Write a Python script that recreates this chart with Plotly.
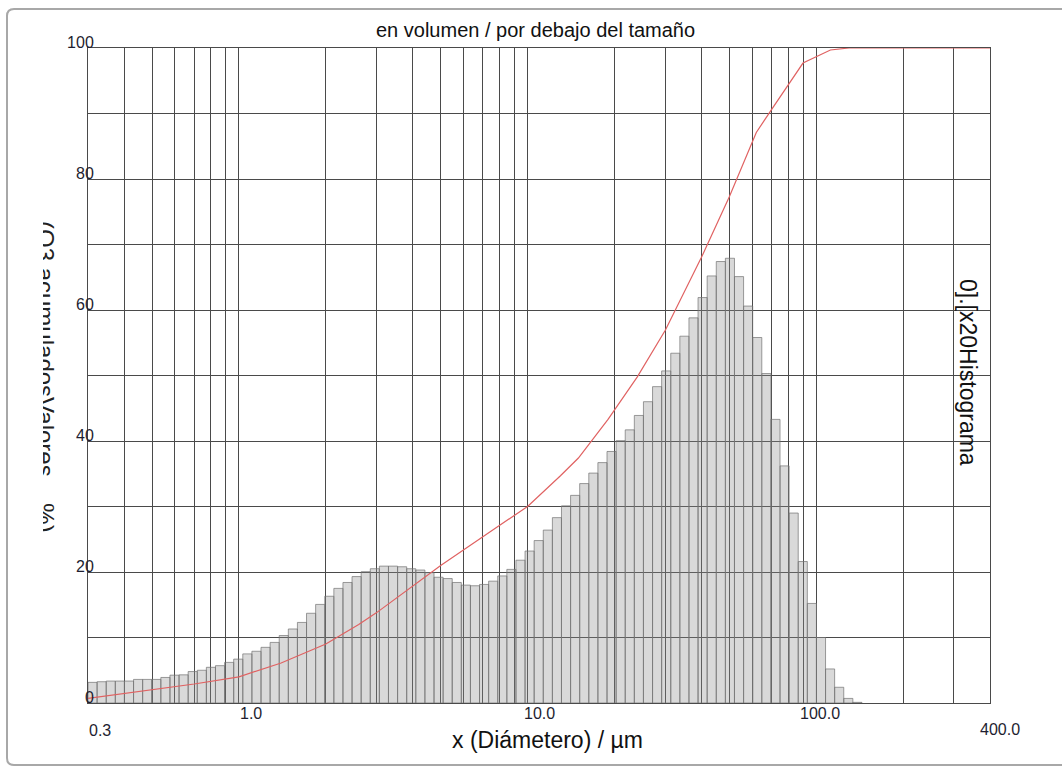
import numpy as np
import plotly.graph_objects as go

# ---------------- data ----------------
bin_edges = [0.3, 0.3226, 0.3469, 0.3730, 0.4011, 0.4314, 0.4639, 0.4988, 0.5364, 0.5768,
             0.6203, 0.6670, 0.7173, 0.7713, 0.8294, 0.8919, 0.9591, 1.0313, 1.1090, 1.1926,
             1.2824, 1.3790, 1.4829, 1.5946, 1.7148, 1.8440, 1.9829, 2.1323, 2.2929, 2.4657,
             2.6514, 2.8512, 3.0660, 3.2970, 3.5454, 3.8125, 4.0997, 4.4086, 4.7407, 5.0979,
             5.4820, 5.8950, 6.3391, 6.8167, 7.3302, 7.8825, 8.4763, 9.1149, 9.8016, 10.540,
             11.334, 12.188, 13.106, 14.094, 15.155, 16.297, 17.525, 18.845, 20.265, 21.792,
             23.434, 25.199, 27.098, 29.139, 31.334, 33.695, 36.233, 38.963, 41.898, 45.055,
             48.449, 52.099, 56.024, 60.245, 64.784, 69.664, 74.913, 80.557, 86.626, 93.152,
             100.17, 107.72, 115.83, 124.56, 133.94, 144.03]

q3_histogram = [3.15, 3.25, 3.35, 3.35, 3.35, 3.6, 3.6, 3.6, 3.9, 4.25,
                4.3, 4.8, 5.0, 5.45, 5.7, 6.2, 6.7, 7.5, 7.9, 8.5,
                9.25, 10.3, 11.3, 12.3, 13.7, 15.05, 16.3, 17.5, 18.4, 19.3,
                20.05, 20.5, 20.9, 20.9, 20.8, 20.5, 20.3, 19.9, 19.2, 19.0,
                18.4, 18.0, 17.9, 18.1, 18.6, 19.4, 20.4, 21.8, 23.2, 24.8,
                26.4, 28.3, 30.1, 31.7, 33.5, 35.1, 36.7, 38.4, 40.05, 41.7,
                43.9, 46.0, 48.3, 50.7, 53.4, 56.0, 58.8, 61.9, 65.2, 67.4,
                67.9, 65.1, 60.6, 55.8, 50.3, 43.3, 36.2, 29.0, 21.6, 15.2,
                10.0, 5.2, 2.4, 0.7, 0.1]

cum_x = [0.3, 0.5, 0.7, 1.0, 1.4, 2.0, 2.6, 3.0, 4.0, 5.0, 7.0, 10.0, 13.0, 15.0,
         19.0, 24.0, 30.0, 40.0, 50.0, 62.0, 70.0, 90.0, 112.0, 130.0, 400.0]
cum_Q3 = [0.7, 2.0, 2.9, 4.0, 6.1, 9.0, 12.0, 13.8, 17.9, 21.0, 25.4, 30.0, 34.7, 37.4,
          43.3, 49.8, 56.9, 68.0, 77.3, 87.1, 90.6, 97.7, 99.7, 100.0, 100.0]

x_grid = [0.3, 0.4, 0.5, 0.6, 0.7, 0.8, 0.9, 1, 2, 3, 4, 5, 6, 7, 8, 9,
          10, 20, 30, 40, 50, 60, 70, 80, 90, 100, 200, 300, 400]
x_labels = ["0.3", "1.0", "10.0", "100.0", "400.0"]
x_label_vals = [0.3, 1.0, 10.0, 100.0, 400.0]
y_grid = [0, 10, 20, 30, 40, 50, 60, 70, 80, 90, 100]
y_labels = ["0", "", "20", "", "40", "", "60", "", "80", "", "100"]

title_text = "en volumen / por debajo del tamaño"
x_title = "x (Diámetero) / µm"
y_title_left = "(Q3 acumuladosValores    %)"
y_title_right = "0].[x20Histograma"

# ---------------- figure ----------------
W, H = 1062, 766
L, R, T, B = 88, 72, 48, 63
pw, ph = W - L - R, H - T - B


def px2paper_x(px):
    return (px - L) / pw


def py2paper_y(py):
    return (H - B - py) / ph


FONT = "Liberation Sans, Arial, sans-serif"
GRID = "#4a4a4a"

bx, by = [], []
for i, h in enumerate(q3_histogram):
    lft, rgt = bin_edges[i], bin_edges[i + 1]
    bx += [lft, lft, rgt, rgt, lft, None]
    by += [0, h, h, 0, 0, None]

fig = go.Figure()
fig.add_trace(go.Scatter(
    x=bx, y=by, mode="lines", fill="toself",
    fillcolor="rgba(140,140,140,0.33)",
    line=dict(color="rgba(115,115,115,0.7)", width=1),
    hoverinfo="skip", showlegend=False))
fig.add_trace(go.Scatter(
    x=cum_x, y=cum_Q3, mode="lines",
    line=dict(color="#e06262", width=1.2), showlegend=False))

fig.update_layout(
    width=W, height=H,
    margin=dict(l=L, r=R, t=T, b=B),
    paper_bgcolor="white", plot_bgcolor="white",
    showlegend=False,
    font=dict(family=FONT, color="#222"),
)
fig.update_xaxes(
    type="log", range=[np.log10(0.3), np.log10(400)],
    tickvals=x_grid, showticklabels=False, ticks="",
    showgrid=True, gridcolor=GRID, gridwidth=1,
    showline=True, linecolor=GRID, linewidth=1, mirror=True, zeroline=False)
fig.update_yaxes(
    range=[0, 100], tickvals=y_grid, ticktext=y_labels, ticks="",
    tickfont=dict(size=16, color="#1e1e30", family=FONT),
    ticklabelshift=-6, ticklabelstandoff=-10,
    showgrid=True, gridcolor=GRID, gridwidth=1,
    showline=True, linecolor=GRID, linewidth=1, mirror=True, zeroline=False)

annotations = []
# title
annotations.append(dict(text=title_text, xref="paper", yref="paper",
                        x=px2paper_x(535), y=py2paper_y(30), xanchor="center", yanchor="middle",
                        showarrow=False, font=dict(size=20, color="#111", family=FONT)))
# x axis title
annotations.append(dict(text=x_title, xref="paper", yref="paper",
                        x=px2paper_x(547), y=py2paper_y(740), xanchor="center", yanchor="middle",
                        showarrow=False, font=dict(size=23, color="#111", family=FONT)))
# left rotated title (left half of the glyphs is hidden in the original)
annotations.append(dict(text=y_title_left, xref="paper", yref="paper",
                        x=px2paper_x(46), y=py2paper_y(377), xanchor="center", yanchor="middle",
                        textangle=90, showarrow=False,
                        font=dict(size=24, color="#222", family=FONT)))
annotations.append(dict(text=" ", xref="paper", yref="paper",
                        x=px2paper_x(31), y=py2paper_y(377), xanchor="center", yanchor="middle",
                        width=24, height=400, bgcolor="white", borderpad=0, borderwidth=0,
                        showarrow=False))
# right rotated title
annotations.append(dict(text=y_title_right, xref="paper", yref="paper",
                        x=px2paper_x(968), y=py2paper_y(372), xanchor="center", yanchor="middle",
                        textangle=90, showarrow=False,
                        font=dict(size=23, color="#111", family=FONT)))
# x tick labels
x_label_py = {0.3: 730, 1.0: 713, 10.0: 713, 100.0: 713, 400.0: 729}
x_label_shift = {0.3: 12, 1.0: 12, 10.0: 12, 100.0: 4, 400.0: 10}
for lab, v in zip(x_labels, x_label_vals):
    annotations.append(dict(text=lab, xref="x", yref="paper",
                            x=np.log10(v), y=py2paper_y(x_label_py[v]),
                            xanchor="center", yanchor="middle", xshift=x_label_shift[v],
                            showarrow=False, font=dict(size=16, color="#1e1e30", family=FONT)))
fig.update_layout(annotations=annotations)

# rounded outer frame
x0, x1 = px2paper_x(7), px2paper_x(1068)
y0, y1 = py2paper_y(765), py2paper_y(9)
rx, ry = 7 / pw, 7 / ph
path = (f"M {x0+rx},{y1} L {x1-rx},{y1} Q {x1},{y1} {x1},{y1-ry} "
        f"L {x1},{y0+ry} Q {x1},{y0} {x1-rx},{y0} L {x0+rx},{y0} "
        f"Q {x0},{y0} {x0},{y0+ry} L {x0},{y1-ry} Q {x0},{y1} {x0+rx},{y1} Z")
fig.add_shape(type="path", path=path, xref="paper", yref="paper",
              line=dict(color="#a8a8a8", width=2), layer="below")

fig.write_html("out.html")
